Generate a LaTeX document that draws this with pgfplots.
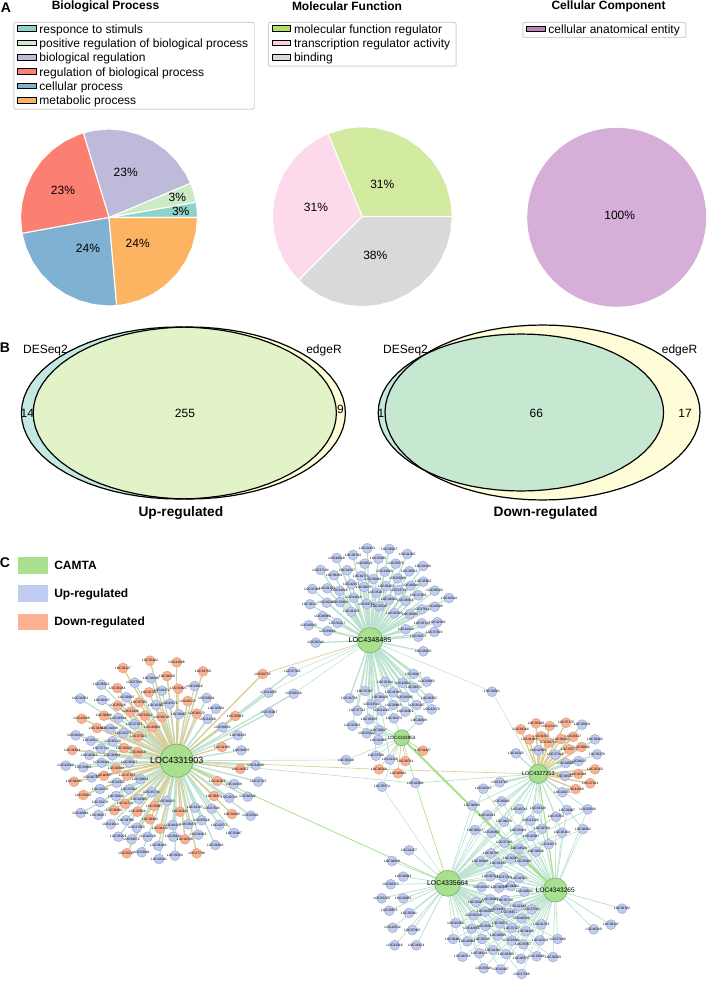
\documentclass[border=0pt]{standalone}
\usepackage{fontspec}
\usepackage{pgfplots}
\usepackage{pgfplotstable}
\pgfplotsset{compat=1.18}
\setmainfont{Liberation Sans}

\definecolor{pA}{HTML}{8DD3C7}\definecolor{pB}{HTML}{CCEBC5}\definecolor{pC}{HTML}{BEBADA}
\definecolor{pD}{HTML}{FB8072}\definecolor{pE}{HTML}{80B1D3}\definecolor{pF}{HTML}{FDB462}
\definecolor{mA}{HTML}{D2EBA1}\definecolor{mB}{HTML}{FDD9EC}\definecolor{mC}{HTML}{D9D9D9}
\definecolor{lA}{HTML}{B3DE69}\definecolor{lB}{HTML}{FCCDE5}
\definecolor{cA}{HTML}{D5AFD7}\definecolor{lC}{HTML}{BC80BD}
\definecolor{vTeal}{HTML}{C4E8E2}\definecolor{vYel}{HTML}{FFFCD8}
\definecolor{vUp}{HTML}{E2F3C8}\definecolor{vDown}{HTML}{C7E8D0}
\definecolor{upc}{HTML}{C0CCF0}\definecolor{upe}{HTML}{94A0CC}
\definecolor{dnc}{HTML}{FCB292}\definecolor{dne}{HTML}{D29C7C}
\definecolor{hubc}{HTML}{A8E090}\definecolor{hube}{HTML}{6FAA6F}
\definecolor{eg}{HTML}{BCE2CF}\definecolor{et}{HTML}{DACD96}\definecolor{eb}{HTML}{A8E08C}

\newcommand{\tinyfont}{\fontsize{2.5}{3}\selectfont}

\pgfplotsset{
  pie axis/.style={scale only axis,hide axis,clip=false,xmin=-1,xmax=1,ymin=-1,ymax=1,
    legend cell align=left,
    legend image code/.code={\fill[##1,sharp corners] (0pt,-1.2pt) rectangle (14pt,3pt);},
    legend style={draw=gray!35,rounded corners=1pt,line width=.7pt,font=\fontsize{9}{10}\selectfont,
      nodes={text height=6.5pt,text depth=1.8pt,inner ysep=0pt},
      row sep=2.45pt,inner xsep=2.5pt,inner ysep=1.5pt,anchor=north west}},
  wedge/.style={fill=#1,draw=white,line width=.8pt,forget plot},
  up node/.style={only marks,mark=*,mark size=3.75pt,mark options={fill=upc,draw=upe,line width=.3pt},
    point meta=explicit symbolic,nodes near coords={LOC\pgfplotspointmeta},
    every node near coord/.style={font=\tinyfont,anchor=center,inner sep=0pt}},
  dn node/.style={up node,mark options={fill=dnc,draw=dne,line width=.3pt}},
  link/.style={draw=eg,line width=.55pt},
  hub/.style n args={3}{only marks,mark=*,mark size=#1,mark options={fill=hubc,draw=hube,line width=.4pt},
    nodes near coords={#3},
    every node near coord/.style={font=\fontsize{#2}{8}\selectfont,anchor=center,inner sep=0pt}},
}

% unit circle used for the Venn outlines and the 100% pie
\pgfplotstableread{
c s
1 0
.9962 .0872
.9848 .1736
.9659 .2588
.9397 .3420
.9063 .4226
.8660 .5
.8192 .5736
.7660 .6428
.7071 .7071
.6428 .7660
.5736 .8192
.5 .8660
.4226 .9063
.3420 .9397
.2588 .9659
.1736 .9848
.0872 .9962
0 1
-.0872 .9962
-.1736 .9848
-.2588 .9659
-.3420 .9397
-.4226 .9063
-.5 .8660
-.5736 .8192
-.6428 .7660
-.7071 .7071
-.7660 .6428
-.8192 .5736
-.8660 .5
-.9063 .4226
-.9397 .3420
-.9659 .2588
-.9848 .1736
-.9962 .0872
-1 0
-.9962 -.0872
-.9848 -.1736
-.9659 -.2588
-.9397 -.3420
-.9063 -.4226
-.8660 -.5
-.8192 -.5736
-.7660 -.6428
-.7071 -.7071
-.6428 -.7660
-.5736 -.8192
-.5 -.8660
-.4226 -.9063
-.3420 -.9397
-.2588 -.9659
-.1736 -.9848
-.0872 -.9962
0 -1
.0872 -.9962
.1736 -.9848
.2588 -.9659
.3420 -.9397
.4226 -.9063
.5 -.8660
.5736 -.8192
.6428 -.7660
.7071 -.7071
.7660 -.6428
.8192 -.5736
.8660 -.5
.9063 -.4226
.9397 -.3420
.9659 -.2588
.9848 -.1736
.9962 -.0872
1 0
}\unitcircle

% network nodes, pixel positions.
% the small gene ids are illegible in the reference, so these digits are stand-ins
\pgfplotstableread{
x y id
101.3 684.7 38012
80.3 698.7 34561
102 700 40237
134.7 682.7 37091
151 678.3 36048
162 690.7 41172
194.7 686 33916
126.3 697.3 39025
156 705 42381
169.7 703.7 35570
206.7 698 38831
216 708.7 32694
118.3 718 40518
134.3 724.3 37263
179 714.3 39907
207.7 719 34108
222.7 727.3 36652
110 728.7 41836
123.3 733 33275
75.7 735.3 38490
91 740.7 42017
112.7 741.3 35129
101 748.7 37744
89.3 755 40362
112.3 755.3 36581
238 735.3 39213
241.3 750.3 34870
268.7 692.7 41005
292.3 671.7 37328
293.7 693.7 38156
269.3 712.7 35947
65.7 765.7 42260
83.3 767.3 33609
101.7 762.7 39481
129.3 762.7 36027
91.7 777.3 40793
116.7 782.7 34352
140.3 779 38614
100 789 41529
129 789.3 37082
151.7 792.3 35736
116 796 39340
139 799 42905
100 802 33178
166.7 801 36423
80.7 813 40061
98.3 815 38257
126 820.3 34796
110.7 824.3 41613
136.7 827.7 37950
118.3 836.7 35204
131.7 839.3 39672
147.7 836.7 42138
158.3 845.7 36389
141.7 852.3 33841
172.7 825 40425
188.3 824.3 38079
201.7 820.3 35518
195 807.7 41267
211.7 808.7 37604
198.3 834.7 34023
173.3 836.7 39136
219.3 825 42572
215.3 845 36910
234 833 33487
229.3 797.7 40706
247.7 796.7 38342
250.7 815.7 35091
234 784 41958
258.3 781.7 37215
255.7 765.3 34639
175 855.7 39584
159 859 42041
}\Aup
\pgfplotstableread{
x y id
123 668 38127
150 660.7 35402
176.7 662.3 41096
203 671.3 33758
167 676 39610
117.3 688 36284
149 692.3 42731
178.3 688.7 34905
187.7 701 40172
139 702.3 37563
117.7 705.7 35028
130.7 711.7 41449
104 715.7 38896
144.7 715.7 33312
161.7 717 39745
196.7 713.7 36170
81.7 718.7 42608
97 728 34467
152.3 727 40839
138.3 736.3 37021
235.3 716 35693
222 747 41380
72.3 750 38544
124 748 33926
137.7 752 39218
262.7 674 36705
116 768.7 42093
74 781.7 34281
104 775.7 40657
127.3 775.7 37439
83.3 795 35816
125 803.7 41722
114.3 810.3 38360
137.3 811.7 33594
154.3 806 39087
150 819.3 36842
180 811.7 42415
160 828.7 34130
185 839.3 40526
196.7 853.3 37798
126.7 853.3 35267
217.3 781 41903
214 796 38671
232 814 33045
240.3 769 39352
}\Adown
\pgfplotstableread{
x y id
367.3 548.3 34152
389.3 549 38207
407.3 554 41360
353 555 36794
336.7 558 40018
378.3 558.7 33465
364.7 563.7 39521
395.7 563.7 35876
423 566 42290
320.7 570 37134
347 570.3 41047
384.7 571.7 34683
409.3 571.3 38912
334 575.3 36259
361 576 40771
397.7 578.3 33008
373.3 579 39346
423.3 581.7 35602
351.3 584.3 42157
312.3 589 37480
327.3 588.3 41233
339.7 590.7 34816
364 587 38075
386 586 36423
410.7 585.7 40694
398.7 590 33731
434.7 590.7 39160
376.3 592.7 35287
449 598 42544
418.3 595.3 37906
353.7 597.7 41618
389 599.7 34049
405.3 600.7 38363
310 604.3 36517
326.7 602.7 40285
340 602 33894
366.7 604 39752
379.3 606.3 35138
434.7 606.7 42006
421.7 609.3 37651
351.3 611.7 41479
394.3 613.3 34320
410 614 38598
322.7 616.3 36066
308.7 625.3 40943
337.3 623 33217
327.7 631 39605
422 623.3 35741
437.3 622.3 42368
434.3 632 37829
405.7 629.3 41102
418.3 636.7 34575
315.7 642.7 38244
423.3 651.3 36930
413.3 674 40407
426.7 681.7 33663
414 687.7 39071
385 682 35314
402.7 683 42812
365 691 37267
393.3 692.3 41590
349.3 698.3 34738
380 697.3 38126
404.7 697.3 36095
429 698.3 40352
371.7 704 33540
393.3 705 39883
416.7 705 35407
431.7 709.3 42179
357.3 710.7 37712
381.7 710.7 41264
405.3 711.7 34901
}\Bup
\pgfplotstableread{
x y id
369 719.3 38450
394 718.3 36173
419 720 40829
352.3 725.7 33306
379 730 39617
366.7 733.3 35042
378.3 740 42285
376 755.7 37596
390 759.7 41138
}\Cup
\pgfplotstableread{
x y id
423 750.7 34427
405.3 761 38761
379 769.3 36208
398 773.3 40594
}\Cdown
\pgfplotstableread{
x y id
582 724.7 33859
595 739.3 39402
597 754.3 35276
538.3 750.3 42663
555.3 754.7 37018
516 753.3 41325
565.7 763 34690
578.7 761 38137
565 776 36541
562.3 792.3 40276
499.7 782.3 33782
}\Dup
\pgfplotstableread{
x y id
520.7 729.3 39264
536 723.3 35819
549.7 726 42430
566 722.7 37175
529.3 739.3 41086
541.3 736.3 34352
548.7 742.7 38703
561 739 36928
573.3 736.7 40117
569 749.3 33574
581.7 747 39840
595 769.3 35263
578.3 774 42096
590.3 783.3 37431
575.7 789 41658
}\Ddown
\pgfplotstableread{
x y id
483.3 788.7 34215
472 805.3 38569
501.7 801.3 36082
519.3 809 40743
538 808.7 33120
567 810 39497
587.7 809.3 35638
487.3 815 42321
556 816.7 37854
530.7 820.7 41209
504 821.7 34076
583 829 38392
475 830 36617
491.7 832.7 40950
518.3 830 33403
542 828.7 39768
562 832.7 35154
531.3 836 42587
}\DFup
\pgfplotstableread{
x y id
504.3 842.7 37340
548.7 844.3 41872
519 848.7 34529
536 851.7 38016
491 853.3 36795
511 858.7 40261
480 861.3 33948
498 863.3 39133
523.3 861.3 35480
490.3 876.3 42704
503.7 877.3 37269
519.3 878 41505
511 886 34862
481.7 887 38327
499 887.7 36054
524.3 891.7 40619
476 902 33287
490.3 899.3 39945
505 900 35716
518.3 906 42148
531.7 909.3 37593
485 911.7 41034
497.7 909.3 34401
509.3 912.7 38872
473.7 915.3 36236
521.7 918.3 40508
500 923.3 33675
485.3 926 39021
455.7 923 35369
471.7 928.7 42856
512 928 37127
541.3 924.3 41783
526 931.3 34240
498 935.7 38695
453 939 36461
467.3 941.3 40082
482 939 33516
511.7 940.7 39304
523.3 944.3 35957
540 940.3 42219
557.7 939 37648
493 950 41391
462.3 956.7 34783
479.3 953.3 38128
506 954 36309
521 958.7 40675
536.7 956.3 33092
553 957 39559
483.7 968.3 35824
500.7 969.3 42467
521.7 974 37206
}\EFup
\pgfplotstableread{
x y id
409 850.3 41157
392 861 34618
403.3 876.7 38943
390.7 884.3 36370
403.3 898.3 40836
381.7 898.3 33229
389.3 910.7 39676
409 913 35091
392.7 927.7 42532
412.3 930 37485
394.7 945.3 41016
416.3 945.3 34154
}\Eup
\pgfplotstableread{
x y id
622 908.7 38782
611 924.7 36147
593.7 929.3 40329
}\Fup
\pgfplotstableread{
x y id
492 691.7 33861
346 760 39218
382 786.7 35574
415.3 783 42090
}\Xup

\begin{document}
\begin{tikzpicture}
\useasboundingbox (0,0) rectangle (531pt,735.75pt);

% --- pies
\begin{axis}[pie axis,at={(109*0.75pt,{(981-217.5)*0.75pt})},anchor=center,
  width=132.75pt,height=132.75pt,legend style={at={(-0.04,1.605)}}]
  \addlegendimage{fill=pA}\addlegendentry{responce to stimuls}
  \addlegendimage{fill=pB}\addlegendentry{positive regulation of biological process}
  \addlegendimage{fill=pC}\addlegendentry{biological regulation}
  \addlegendimage{fill=pD}\addlegendentry{regulation of biological process}
  \addlegendimage{fill=pE}\addlegendentry{cellular process}
  \addlegendimage{fill=pF}\addlegendentry{metabolic process}
  \addplot[wedge=pA] coordinates {(0,0)(1,0)(.9962,.0872)(.9848,.1736)(0,0)};
  \addplot[wedge=pB] coordinates {(0,0)(.9848,.1736)(.9659,.2588)(.9397,.3420)(.9219,.3875)(0,0)};
  \addplot[wedge=pC] coordinates {(0,0)(.9219,.3875)(.8660,.5)(.7660,.6428)(.6428,.7660)(.5,.8660)(.3420,.9397)(.1736,.9848)(0,1)(-.1736,.9848)(-.2907,.9568)(0,0)};
  \addplot[wedge=pD] coordinates {(0,0)(-.2907,.9568)(-.3420,.9397)(-.5,.8660)(-.6428,.7660)(-.7660,.6428)(-.8660,.5)(-.9397,.3420)(-.9848,.1736)(-1,0)(-.9836,-.1805)(0,0)};
  \addplot[wedge=pE] coordinates {(0,0)(-.9836,-.1805)(-.9397,-.3420)(-.8660,-.5)(-.7660,-.6428)(-.6428,-.7660)(-.5,-.8660)(-.3420,-.9397)(-.1736,-.9848)(0,-1)(.0872,-.9962)(0,0)};
  \addplot[wedge=pF] coordinates {(0,0)(.0872,-.9962)(.1736,-.9848)(.3420,-.9397)(.5,-.8660)(.6428,-.7660)(.7660,-.6428)(.8660,-.5)(.9397,-.3420)(.9848,-.1736)(1,0)(0,0)};
\end{axis}
\begin{axis}[pie axis,at={(362.3*0.75pt,{(981-216.7)*0.75pt})},anchor=center,
  width=135pt,height=135pt,legend style={at={(-0.024,1.582)}}]
  \addlegendimage{fill=lA}\addlegendentry{molecular function regulator}
  \addlegendimage{fill=lB}\addlegendentry{transcription regulator activity}
  \addlegendimage{fill=mC}\addlegendentry{binding}
  \addplot[wedge=mA] coordinates {(0,0)(1,0)(.9848,.1736)(.9397,.3420)(.8660,.5)(.7660,.6428)(.6428,.7660)(.5,.8660)(.3420,.9397)(.1736,.9848)(0,1)(-.1736,.9848)(-.3827,.9239)(0,0)};
  \addplot[wedge=mB] coordinates {(0,0)(-.3827,.9239)(-.5,.8660)(-.6428,.7660)(-.7660,.6428)(-.8660,.5)(-.9397,.3420)(-.9848,.1736)(-1,0)(-.9848,-.1736)(-.9397,-.3420)(-.8660,-.5)(-.7660,-.6428)(-.7071,-.7071)(0,0)};
  \addplot[wedge=mC] coordinates {(0,0)(-.7071,-.7071)(-.6428,-.7660)(-.5,-.8660)(-.3420,-.9397)(-.1736,-.9848)(0,-1)(.1736,-.9848)(.3420,-.9397)(.5,-.8660)(.6428,-.7660)(.7660,-.6428)(.8660,-.5)(.9397,-.3420)(.9848,-.1736)(1,0)(0,0)};
\end{axis}
\begin{axis}[pie axis,at={(616.7*0.75pt,{(981-217.3)*0.75pt})},anchor=center,
  width=134.25pt,height=134.25pt,legend style={at={(-0.027,1.591)}}]
  \addlegendimage{fill=lC}\addlegendentry{cellular anatomical entity}
  \addplot[fill=cA,draw=none,forget plot] table[x=c,y=s] {\unitcircle};
\end{axis}

% --- everything else, in image pixels
\begin{axis}[at={(0,0)},anchor=south west,scale only axis,width=531pt,height=735.75pt,
  xmin=0,xmax=708,ymin=0,ymax=981,y dir=reverse,hide axis,clip=false]

  % panel letters, titles, pie labels
  \node[font=\fontsize{10.5}{12}\selectfont\bfseries] at (6,8) {A};
  \node[font=\fontsize{10.5}{12}\selectfont\bfseries] at (5,348) {B};
  \node[font=\fontsize{10.5}{12}\selectfont\bfseries] at (5,563) {C};
  \node[font=\fontsize{9}{10}\selectfont\bfseries] at (105.5,6) {Biological Process};
  \node[font=\fontsize{9}{10}\selectfont\bfseries] at (347,6.5) {Molecular Function};
  \node[font=\fontsize{9}{10}\selectfont\bfseries] at (608.5,6) {Cellular Component};
  \begin{scope}[every node/.style={font=\fontsize{9}{10}\selectfont,inner sep=0pt}]
    \node at (177.3,197.3) {3\%};
    \node at (180.7,211) {3\%};
    \node at (125.7,172.7) {23\%};
    \node at (63,190) {23\%};
    \node at (88,248.7) {24\%};
    \node at (137.7,243.3) {24\%};
    \node at (316,207.7) {31\%};
    \node at (382.3,184) {31\%};
    \node at (375.3,255.3) {38\%};
    \node at (619.7,215.7) {100\%};
  \end{scope}

  % Venn, up-regulated
  \addplot[fill=vTeal,draw=none] table[x expr=178.9+157.5*\thisrow{c},y expr=413+86*\thisrow{s}] {\unitcircle};
  \addplot[fill=vYel,draw=none] table[x expr=189.3+156.1*\thisrow{c},y expr=413+86*\thisrow{s}] {\unitcircle};
  \begin{scope}
    \clip (178.9,413) ellipse [x radius=157.5,y radius=86];
    \addplot[fill=vUp,draw=none] table[x expr=189.3+156.1*\thisrow{c},y expr=413+86*\thisrow{s}] {\unitcircle};
  \end{scope}
  \addplot[draw=black,line width=.9pt] table[x expr=178.9+157.5*\thisrow{c},y expr=413+86*\thisrow{s}] {\unitcircle};
  \addplot[draw=black,line width=.9pt] table[x expr=189.3+156.1*\thisrow{c},y expr=413+86*\thisrow{s}] {\unitcircle};
  % Venn, down-regulated
  \addplot[fill=vTeal,draw=none] table[x expr=520.9+142.7*\thisrow{c},y expr=412.5+78.5*\thisrow{s}] {\unitcircle};
  \addplot[fill=vYel,draw=none] table[x expr=542.5+157.5*\thisrow{c},y expr=412.5+87.5*\thisrow{s}] {\unitcircle};
  \begin{scope}
    \clip (520.9,412.5) ellipse [x radius=142.7,y radius=78.5];
    \addplot[fill=vDown,draw=none] table[x expr=542.5+157.5*\thisrow{c},y expr=412.5+87.5*\thisrow{s}] {\unitcircle};
  \end{scope}
  \addplot[draw=black,line width=.9pt] table[x expr=520.9+142.7*\thisrow{c},y expr=412.5+78.5*\thisrow{s}] {\unitcircle};
  \addplot[draw=black,line width=.9pt] table[x expr=542.5+157.5*\thisrow{c},y expr=412.5+87.5*\thisrow{s}] {\unitcircle};
  \begin{scope}[every node/.style={font=\fontsize{9}{10}\selectfont,inner sep=0pt}]
    \node at (45.5,350.5) {DESeq2};
    \node at (324,350.5) {edgeR};
    \node at (27.3,413.3) {14};
    \node at (185,413.3) {255};
    \node at (340.5,409.7) {9};
    \node at (405.5,350.5) {DESeq2};
    \node at (679.5,350.5) {edgeR};
    \node at (381,413.3) {1};
    \node at (536.4,413.3) {66};
    \node at (685,413.3) {17};
    \node[font=\fontsize{10.3}{12}\selectfont\bfseries] at (180.9,513.3) {Up-regulated};
    \node[font=\fontsize{10.3}{12}\selectfont\bfseries] at (545.5,513.3) {Down-regulated};
  \end{scope}

  % network key
  \fill[hubc] (18.3,557.3) rectangle (47.7,573.7);
  \fill[upc] (18.3,585.3) rectangle (47.7,602);
  \fill[dnc] (18.3,613.7) rectangle (47.7,630.3);
  \begin{scope}[every node/.style={font=\fontsize{9}{10}\selectfont\bfseries,anchor=west,inner sep=0pt}]
    \node at (54,565) {CAMTA};
    \node at (54,594) {Up-regulated};
    \node at (54,622) {Down-regulated};
  \end{scope}

  % network edges: each node to its hub(s)
  \addplot[link,line width=1pt,quiver={u=176.7-\thisrow{x},v=760.7-\thisrow{y}}] table {\Aup};
  \addplot[draw=et,line width=1pt,quiver={u=176.7-\thisrow{x},v=760.7-\thisrow{y}}] table {\Adown};
  \addplot[link,line width=1pt,quiver={u=370-\thisrow{x},v=640.3-\thisrow{y}}] table {\Bup};
  \addplot[link,quiver={u=370-\thisrow{x},v=640.3-\thisrow{y}}] table {\Cup};
  \addplot[link,quiver={u=401.7-\thisrow{x},v=737.7-\thisrow{y}}] table {\Cup};
  \addplot[draw=et,line width=.55pt,quiver={u=401.7-\thisrow{x},v=737.7-\thisrow{y}}] table {\Cdown};
  \addplot[link,line width=1pt,quiver={u=538.3-\thisrow{x},v=774-\thisrow{y}}] table {\Dup};
  \addplot[draw=et,line width=1pt,quiver={u=538.3-\thisrow{x},v=774-\thisrow{y}}] table {\Ddown};
  \addplot[link,quiver={u=538.3-\thisrow{x},v=774-\thisrow{y}}] table {\DFup};
  \addplot[link,line width=.5pt,quiver={u=555.3-\thisrow{x},v=890-\thisrow{y}}] table {\DFup};
  \addplot[link,line width=.5pt,quiver={u=447.7-\thisrow{x},v=883.3-\thisrow{y}}] table {\DFup};
  \addplot[link,line width=.5pt,quiver={u=447.7-\thisrow{x},v=883.3-\thisrow{y}}] table {\EFup};
  \addplot[link,line width=.5pt,quiver={u=555.3-\thisrow{x},v=890-\thisrow{y}}] table {\EFup};
  \addplot[link,line width=.6pt,quiver={u=447.7-\thisrow{x},v=883.3-\thisrow{y}}] table {\Eup};
  \addplot[link,line width=.6pt,quiver={u=555.3-\thisrow{x},v=890-\thisrow{y}}] table {\Fup};
  % links between clusters
  \addplot[draw=et,line width=.5pt] coordinates {(262.7,674)(370,640.3)};
  \addplot[link,line width=.4pt] coordinates {(292.3,671.7)(370,640.3)};
  \addplot[link,line width=.4pt] coordinates {(293.7,693.7)(370,640.3)};
  \addplot[link,line width=.4pt] coordinates {(268.7,692.7)(370,640.3)};
  \addplot[link,line width=.4pt] coordinates {(370,640.3)(492,691.7)(538.3,774)};
  \addplot[draw=et,line width=.5pt] coordinates {(176.7,760.7)(379,769.3)(538.3,774)};
  \addplot[link,line width=.5pt] coordinates {(176.7,760.7)(346,760)(401.7,737.7)};
  \addplot[link,line width=.5pt] coordinates {(176.7,760.7)(415.3,783)(538.3,774)};
  \addplot[link,line width=.4pt] coordinates {(401.7,737.7)(382,786.7)(447.7,883.3)};
  \addplot[draw=eb,line width=.5pt] coordinates {(401.7,737.7)(415.3,783)(447.7,883.3)};
  \addplot[draw=eb,line width=.6pt] coordinates {(176.7,760.7)(447.7,883.3)};
  \addplot[draw=eb,line width=1.5pt] coordinates {(401.7,737.7)(555.3,890)};
  \addplot[draw=eb,line width=.8pt] coordinates {(538.3,774)(555.3,890)};
  \addplot[link,line width=.4pt] coordinates {(538.3,774)(447.7,883.3)};

  % network nodes
  \addplot[up node] table[meta=id] {\Aup};
  \addplot[dn node] table[meta=id] {\Adown};
  \addplot[up node] table[meta=id] {\Bup};
  \addplot[up node] table[meta=id] {\Cup};
  \addplot[dn node] table[meta=id] {\Cdown};
  \addplot[up node] table[meta=id] {\Dup};
  \addplot[dn node] table[meta=id] {\Ddown};
  \addplot[up node] table[meta=id] {\DFup};
  \addplot[up node] table[meta=id] {\EFup};
  \addplot[up node] table[meta=id] {\Eup};
  \addplot[up node] table[meta=id] {\Fup};
  \addplot[up node] table[meta=id] {\Xup};

  % hubs
  \addplot[hub={12.4pt}{6.7}{LOC4331903}] coordinates {(176.7,760.7)};
  \addplot[hub={9.5pt}{5.4}{LOC4348485}] coordinates {(370,640.3)};
  \addplot[hub={6pt}{3.5}{LOC4343953}] coordinates {(401.7,737.7)};
  \addplot[hub={7.1pt}{4.1}{LOC4327253}] coordinates {(538.3,774)};
  \addplot[hub={9.75pt}{5.2}{LOC4335664}] coordinates {(447.7,883.3)};
  \addplot[hub={9pt}{4.9}{LOC4343265}] coordinates {(555.3,890)};
\end{axis}
\end{tikzpicture}
\end{document}
